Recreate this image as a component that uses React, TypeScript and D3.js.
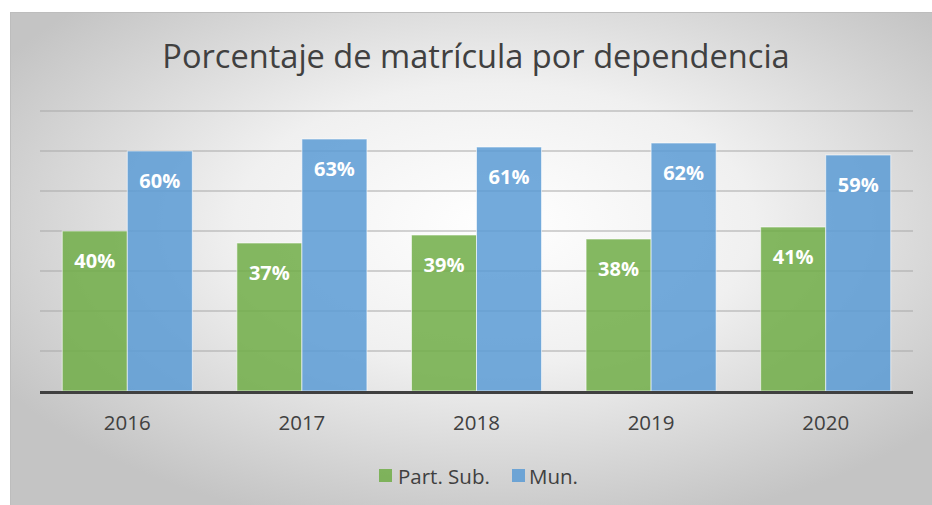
import * as d3 from 'd3';

const years = ['2016', '2017', '2018', '2019', '2020'];
const partSub = [40, 37, 39, 38, 41];
const mun = [60, 63, 61, 62, 59];
const seriesNames = ['Part. Sub.', 'Mun.'];
const yTicks = [0, 10, 20, 30, 40, 50, 60, 70];

const W = 932;
const H = 505;
const font = "'Open Sans', sans-serif";
const colors = ['#70AD47', '#5B9BD5'];

export default function App() {
  const x = d3.scaleBand<string>().domain(years).range([40, 913]);
  const y = d3.scaleLinear().domain([0, 70]).range([391, 111]);
  const bw = x.bandwidth();
  const gw = bw * 0.745;
  const xs = d3.scaleBand<string>().domain(seriesNames).range([(bw - gw) / 2, (bw + gw) / 2]);

  const rows = years.map((yr, i) => ({ yr, vals: [partSub[i], mun[i]] }));

  return (
    <div style={{ position: 'absolute', left: 0, top: 0 }}>
      <svg width={W} height={H} style={{ display: 'block' }}>
        <defs>
          <radialGradient id="bg" cx="52%" cy="42%" r="62%">
            <stop offset="0%" stopColor="#ffffff" />
            <stop offset="45%" stopColor="#f0f0f0" />
            <stop offset="100%" stopColor="#c4c4c4" />
          </radialGradient>
        </defs>
        <rect x={0} y={0} width={W} height={H} fill="#ffffff" />
        <rect x={10.5} y={12.5} width={W} height={H} fill="url(#bg)" stroke="#bdbdbd" strokeWidth={1} />

        <text x={476} y={68} textAnchor="middle" fontFamily={font} fontSize={32.6} fill="#404040">
          Porcentaje de matrícula por dependencia
        </text>

        {yTicks.filter(t => t > 0).map(t => (
          <line key={t} x1={40} x2={913} y1={y(t)} y2={y(t)} stroke="#a8a8a8" strokeWidth={1.2} />
        ))}

        {rows.map(r => (
          <g key={r.yr} transform={`translate(${x(r.yr)},0)`}>
            {r.vals.map((v, j) => (
              <g key={j}>
                <rect
                  x={xs(seriesNames[j])}
                  y={y(v)}
                  width={xs.bandwidth()}
                  height={y(0) - y(v)}
                  fill={colors[j]}
                  fillOpacity={0.85}
                  stroke="#ffffff"
                  strokeOpacity={0.6}
                  strokeWidth={1}
                />
                <text
                  x={(xs(seriesNames[j]) as number) + xs.bandwidth() / 2}
                  y={y(v) + 36.5}
                  textAnchor="middle"
                  fontFamily={font}
                  fontWeight="bold"
                  fontSize={20}
                  fill="#ffffff"
                >
                  {v}%
                </text>
              </g>
            ))}
            <text x={bw / 2} y={429.5} textAnchor="middle" fontFamily={font} fontSize={20.5} fill="#404040">
              {r.yr}
            </text>
          </g>
        ))}

        <line x1={40} x2={913} y1={y(0) + 1.5} y2={y(0) + 1.5} stroke="#404040" strokeWidth={3} />

        <g fontFamily={font} fontSize={20.5} fill="#404040">
          <rect x={379} y={469} width={13} height={13} fill={colors[0]} fillOpacity={0.85} />
          <text x={398} y={483.5}>{seriesNames[0]}</text>
          <rect x={512} y={469} width={13} height={13} fill={colors[1]} fillOpacity={0.85} />
          <text x={529} y={483.5}>{seriesNames[1]}</text>
        </g>
      </svg>
    </div>
  );
}
